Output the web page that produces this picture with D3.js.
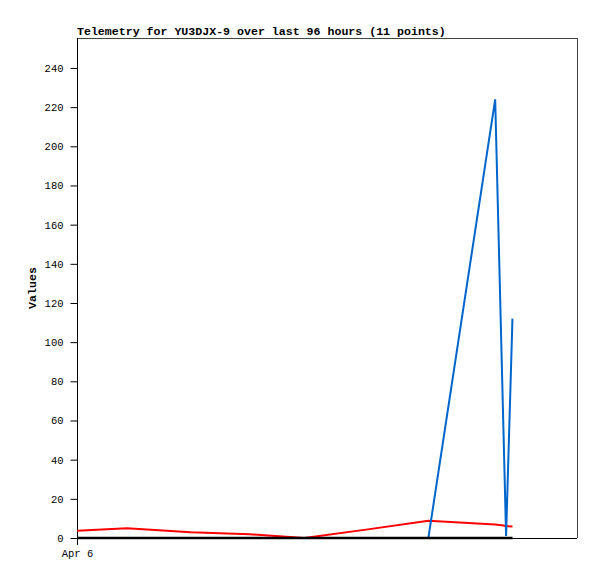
<!DOCTYPE html>
<html><head><meta charset="utf-8">
<script src="https://cdn.jsdelivr.net/npm/d3@7"></script>
<style>body{margin:0;background:#fff}svg{display:block}</style>
</head><body>
<svg id="c" width="597" height="579"></svg>
<script>
const title = "Telemetry for YU3DJX-9 over last 96 hours (11 points)";
const yLabel = "Values";
const hours = [0, 11, 25, 38, 50, 64, 77.3, 92, 93.8, 94.4, 95.8];
const seriesRed = [3.7, 5.0, 2.9, 1.9, 0.0, 4.4, 8.8, 6.9, 6.4, 6.0, 5.9];
const seriesBlue = [0, 0, 0, 0, 0, 0, 0, 224, 57, 1, 112];
const seriesBlack = [0, 0, 0, 0, 0, 0, 0, 0, 0, 0, 0];
const yTicks = [0, 20, 40, 60, 80, 100, 120, 140, 160, 180, 200, 220, 240];
const xTickHours = [0];
const xTickLabels = ["Apr 6"];

const L = 77, R = 577, T = 38, B = 538;
const svg = d3.select("#c");
const x = d3.scaleLinear().domain([0, 110]).range([L, R]);
const y = d3.scaleLinear().domain([0, 255.3]).range([B, T]);
const font = "'Liberation Mono','DejaVu Sans Mono',monospace";

// frame
svg.append("line").attr("x1", L).attr("x2", R).attr("y1", T + 0.5).attr("y2", T + 0.5).attr("stroke", "#444");
svg.append("line").attr("x1", R + 0.5).attr("x2", R + 0.5).attr("y1", T).attr("y2", B).attr("stroke", "#444");
svg.append("line").attr("x1", L).attr("x2", R).attr("y1", B + 0.5).attr("y2", B + 0.5).attr("stroke", "#000");

// y axis
const ya = svg.append("g").attr("transform", `translate(${L + 0.5},0)`)
  .call(d3.axisLeft(y).tickValues(yTicks).tickSize(7).tickPadding(7).tickFormat(d3.format("d")));
ya.select(".domain").remove();
svg.append("line").attr("x1", L + 0.5).attr("x2", L + 0.5).attr("y1", T).attr("y2", B + 7).attr("stroke", "#000");
ya.selectAll("line").attr("stroke", "#000");
ya.selectAll("text").attr("font-family", font).attr("font-size", 10.5).attr("fill", "#000");

// x axis labels
const xa = svg.append("g").attr("transform", `translate(0,${B})`)
  .call(d3.axisBottom(x).tickValues(xTickHours).tickSize(0).tickPadding(12).tickFormat((d, i) => xTickLabels[i]));
xa.select(".domain").remove();
xa.selectAll("text").attr("font-family", font).attr("font-size", 10.5).attr("fill", "#000");

// lines
const line = d3.line().x((d, i) => x(hours[i])).y(d => y(d));
svg.append("path").datum(seriesRed).attr("d", line).attr("fill", "none").attr("stroke", "#ff0000").attr("stroke-width", 2);
svg.append("path").datum(seriesBlue).attr("d", line).attr("fill", "none").attr("stroke", "#0066cc").attr("stroke-width", 2);
svg.append("path").datum(seriesBlack).attr("d", line).attr("fill", "none").attr("stroke", "#000").attr("stroke-width", 2.5);

// title
svg.append("text").attr("x", L).attr("y", 35).attr("font-family", font).attr("font-weight", "bold")
  .attr("font-size", 11.6).attr("fill", "#000").text(title);
// y label
svg.append("text").attr("transform", `translate(36,288) rotate(-90)`).attr("text-anchor", "middle")
  .attr("font-family", font).attr("font-weight", "bold").attr("font-size", 11.6).attr("fill", "#000").text(yLabel);
</script>
</body></html>
